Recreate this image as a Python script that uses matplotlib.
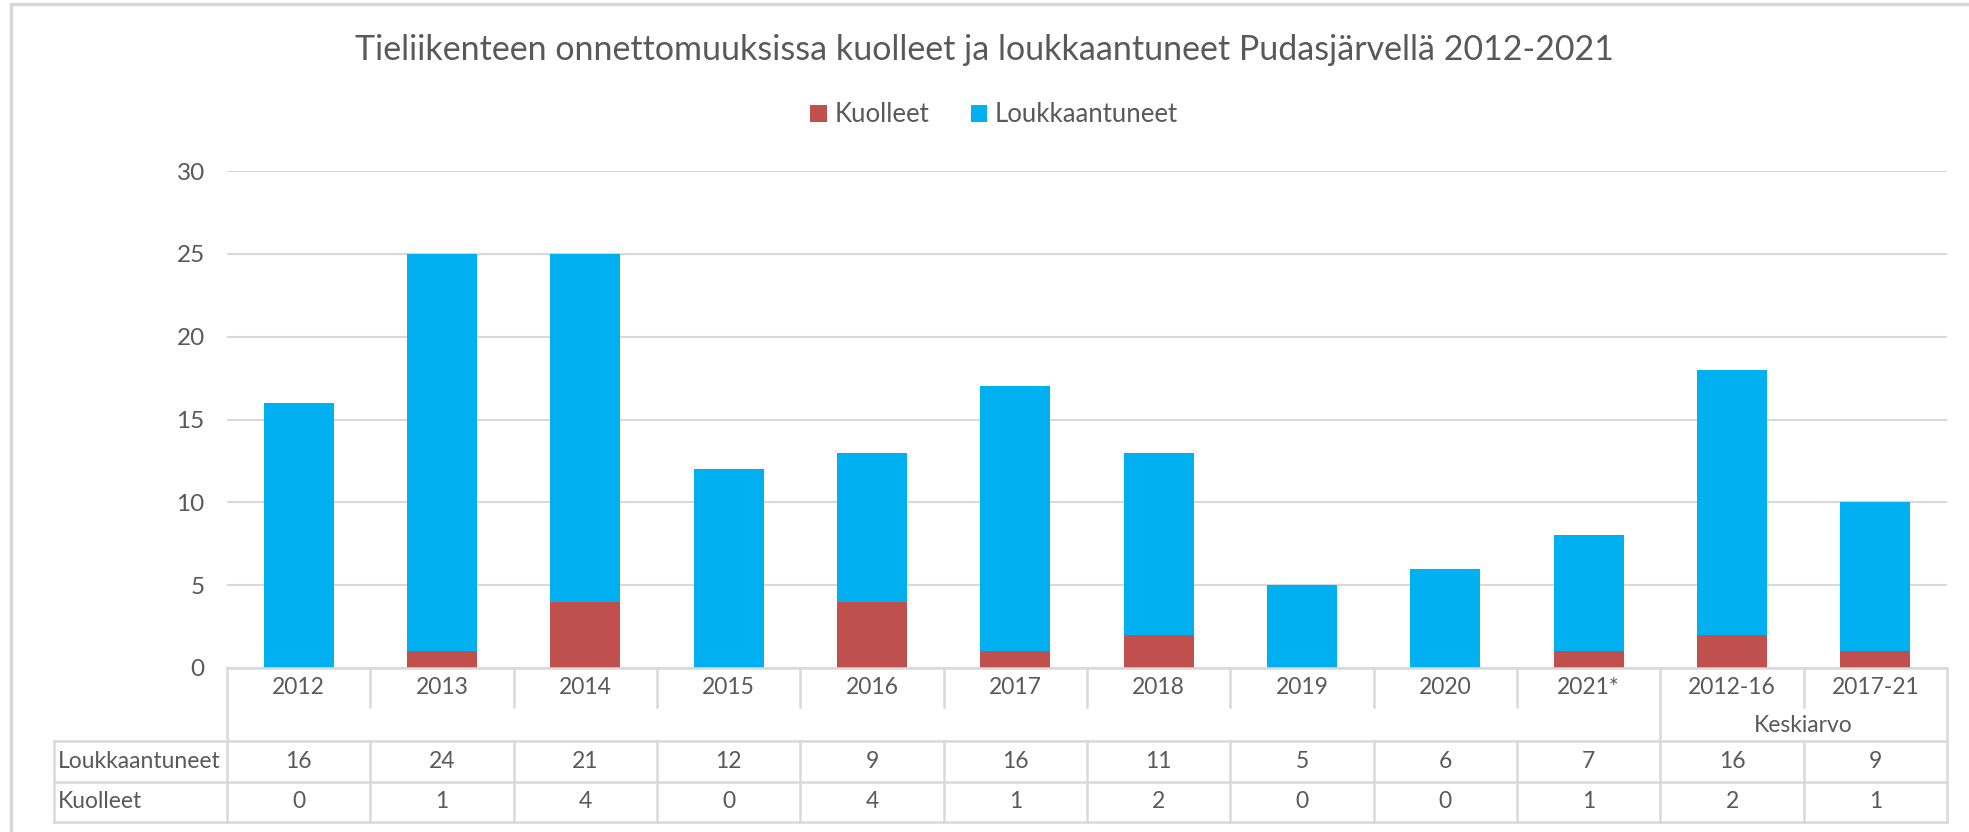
import matplotlib.pyplot as plt
from matplotlib.patches import Rectangle

categories = ['2012', '2013', '2014', '2015', '2016', '2017', '2018',
              '2019', '2020', '2021*', '2012-16', '2017-21']
loukkaantuneet = [16, 24, 21, 12, 9, 16, 11, 5, 6, 7, 16, 9]
kuolleet = [0, 1, 4, 0, 4, 1, 2, 0, 0, 1, 2, 1]
group_label = 'Keskiarvo'
title = 'Tieliikenteen onnettomuuksissa kuolleet ja loukkaantuneet Pudasjärvellä 2012-2021'

RED = '#C0504D'
BLUE = '#00B0F0'
GRID = '#D9D9D9'
TEXT = '#595959'

plt.rcParams['font.family'] = ['Lato', 'DejaVu Sans']

W, H = 1969, 832
fig = plt.figure(figsize=(W / 100, H / 100), dpi=100)

# chart area border (left and top visible only)
fig.add_artist(Rectangle((11 / W, -0.05), 1.1, 1 - 4 / H + 0.05,
                         transform=fig.transFigure, fill=False,
                         edgecolor=GRID, lw=2.5))

ax_l, ax_r, ax_b, ax_t = 227, 1947, 668, 171
ax = fig.add_axes([ax_l / W, 1 - ax_b / H, (ax_r - ax_l) / W, (ax_b - ax_t) / H])
x = list(range(len(categories)))
ax.bar(x, kuolleet, width=0.49, color=RED, label='Kuolleet', zorder=3)
ax.bar(x, loukkaantuneet, width=0.49, bottom=kuolleet, color=BLUE,
       label='Loukkaantuneet', zorder=3)
ax.set_xlim(-0.5, len(categories) - 0.5)
ax.set_ylim(0, 30)
ax.set_yticks(range(0, 31, 5))
ax.set_xticks([])
ax.grid(axis='y', color=GRID, lw=1.5, zorder=0)
for s in ['top', 'right', 'left', 'bottom']:
    ax.spines[s].set_visible(False)
ax.tick_params(axis='y', length=0, pad=16, labelsize=17.5, labelcolor=TEXT)

fig.text(0.5, 1 - 50 / H, title, ha='center', va='center',
         fontsize=24.5, color=TEXT)
fig.legend(loc='center', bbox_to_anchor=(0.505, 1 - 115 / H), ncol=2,
           frameon=False, fontsize=18.5, labelcolor=TEXT, handlelength=0.65,
           handleheight=0.65, handletextpad=0.3, columnspacing=1.6)

# data table below the axis
tab_l, tab_b = 54, 822
cat_w = (ax_r - ax_l) / len(categories)
lab_w = (ax_l - tab_l) / cat_w
tax = fig.add_axes([tab_l / W, 1 - tab_b / H, (ax_r - tab_l) / W, (tab_b - ax_b) / H])
tax.set_xlim(-0.5 - lab_w, len(categories) - 0.5)
tax.set_ylim(tab_b, ax_b)
tax.axis('off')

y_top, y_cat, y_grp, y_r1, y_r2 = 668, 707, 741, 782, 822
n = len(categories)
lk = dict(color=GRID, lw=1.8, clip_on=False)
tax.plot([-0.5, n - 0.5], [y_top, y_top], **lk)
tax.plot([-0.5 - lab_w, n - 0.5], [y_grp, y_grp], **lk)
tax.plot([-0.5 - lab_w, n - 0.5], [y_r1, y_r1], **lk)
tax.plot([-0.5 - lab_w, n - 0.5], [y_r2, y_r2], **lk)
tax.plot([-0.5 - lab_w] * 2, [y_grp, y_r2], **lk)
for xv in [-0.5, 9.5, n - 0.5]:
    tax.plot([xv, xv], [y_top, y_r2], **lk)
for k in range(n - 1):
    xv = k + 0.5
    if xv == 9.5:
        continue
    tax.plot([xv, xv], [y_top, y_cat], **lk)
    tax.plot([xv, xv], [y_grp, y_r2], **lk)

fs = 16.5
for i, c in enumerate(categories):
    tax.text(i, 688, c, ha='center', va='center', fontsize=fs, color=TEXT)
    tax.text(i, 762, str(loukkaantuneet[i]), ha='center', va='center',
             fontsize=fs, color=TEXT)
    tax.text(i, 802, str(kuolleet[i]), ha='center', va='center',
             fontsize=fs, color=TEXT)
tax.text(10.5, 725, group_label, ha='center', va='center', fontsize=fs, color=TEXT)
tax.text(-0.5 - lab_w + 0.03, 762, 'Loukkaantuneet', ha='left', va='center',
         fontsize=fs, color=TEXT)
tax.text(-0.5 - lab_w + 0.03, 802, 'Kuolleet', ha='left', va='center',
         fontsize=fs, color=TEXT)

fig.savefig('out.png', dpi=100)
